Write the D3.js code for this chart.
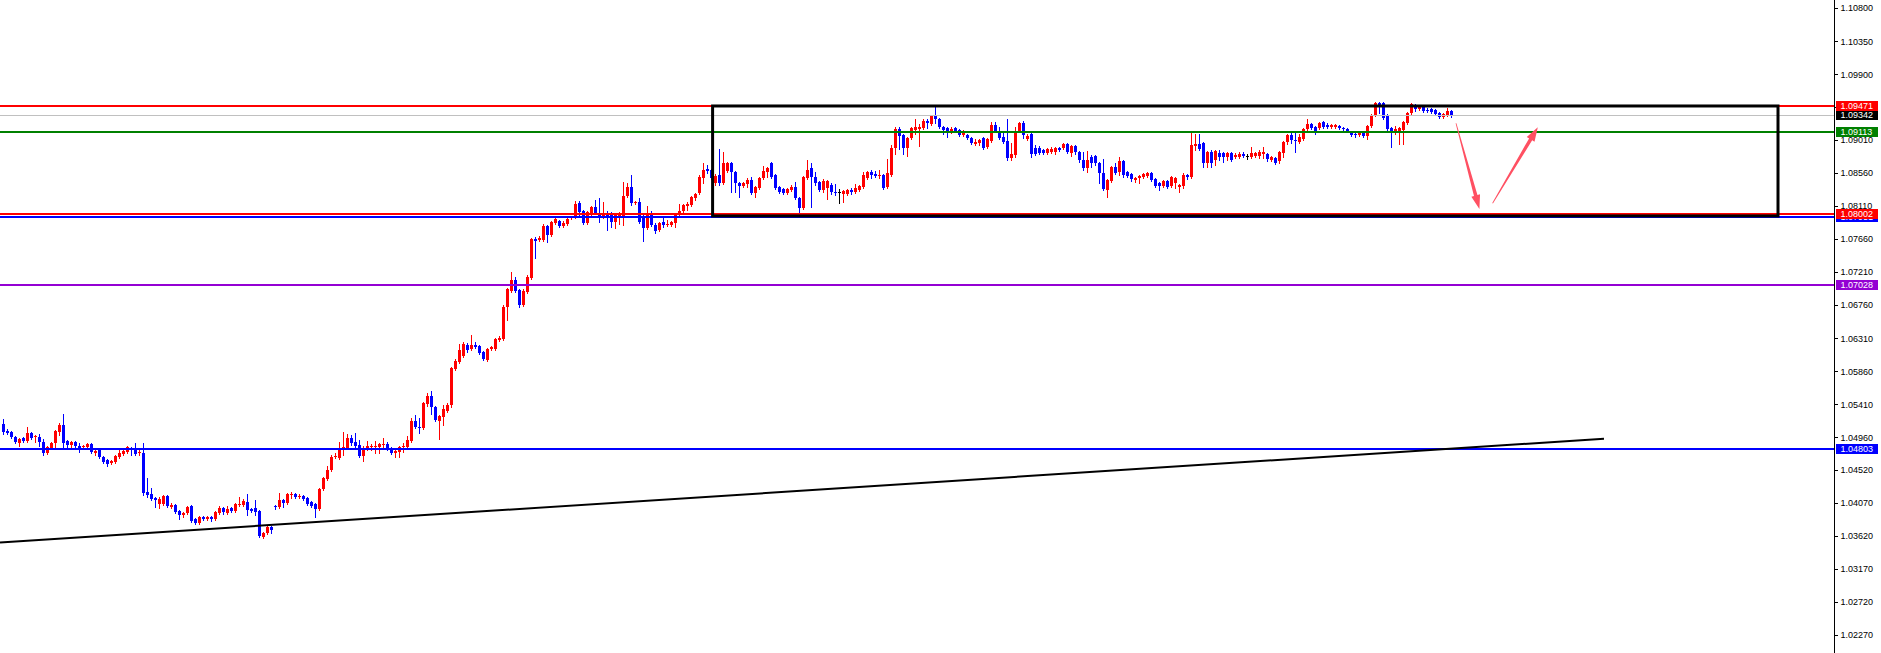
<!DOCTYPE html>
<html><head><meta charset="utf-8">
<script src="https://cdn.jsdelivr.net/npm/d3@7"></script>
<style>html,body{margin:0;padding:0;background:#fff;overflow:hidden}svg{display:block}</style>
</head><body>
<svg id="c" width="1881" height="653"></svg>
<script>
// ---- candle data (EURUSD, oldest -> newest) ----
const open = [
1.05143,1.05047,1.05034,1.04966,1.04884,1.04952,1.04911,1.05020,1.04966,1.04966,
1.04898,1.04748,1.04816,1.04884,1.05034,1.05129,1.04911,1.04857,1.04898,1.04843,
1.04830,1.04830,1.04871,1.04748,1.04789,1.04694,1.04653,1.04612,1.04626,1.04694,
1.04735,1.04762,1.04816,1.04816,1.04748,1.04748,1.04218,1.04191,1.04136,1.04055,
1.04055,1.04163,1.04014,1.04041,1.03959,1.03905,1.03932,1.04027,1.03851,1.03796,
1.03878,1.03851,1.03878,1.03851,1.03932,1.04000,1.03932,1.04000,1.03959,1.04041,
1.04041,1.04082,1.03987,1.04000,1.03959,1.03606,1.03660,1.03742,1.04027,1.04014,
1.04109,1.04068,1.04177,1.04191,1.04150,1.04163,1.04136,1.04082,1.04055,1.03987,
1.04259,1.04395,1.04517,1.04694,1.04680,1.04816,1.04816,1.04952,1.04898,1.04857,
1.04707,1.04816,1.04830,1.04830,1.04830,1.04857,1.04871,1.04816,1.04748,1.04762,
1.04830,1.04830,1.04911,1.05183,1.05102,1.05088,1.05415,1.05523,1.05374,1.05183,
1.05238,1.05319,1.05401,1.05891,1.05986,1.06067,1.06217,1.06163,1.06217,1.06203,
1.06122,1.06013,1.06163,1.06163,1.06285,1.06299,1.06734,1.06952,1.07101,1.06965,
1.06761,1.06938,1.07128,1.07659,1.07645,1.07645,1.07835,1.07713,1.07876,1.07903,
1.07835,1.07863,1.07944,1.07958,1.08148,1.08039,1.07876,1.07985,1.08094,1.07999,
1.07971,1.08012,1.08012,1.07890,1.07971,1.07971,1.08243,1.08366,1.08148,1.08162,
1.07958,1.07808,1.08012,1.07849,1.07781,1.07890,1.07849,1.07849,1.07876,1.07985,
1.08039,1.08107,1.08121,1.08216,1.08284,1.08488,1.08611,1.08597,1.08420,1.08529,
1.08420,1.08583,1.08692,1.08570,1.08420,1.08379,1.08407,1.08461,1.08284,1.08352,
1.08488,1.08570,1.08692,1.08529,1.08366,1.08339,1.08284,1.08325,1.08366,1.08216,
1.08080,1.08488,1.08624,1.08502,1.08434,1.08325,1.08352,1.08393,1.08298,1.08298,
1.08271,1.08271,1.08325,1.08298,1.08325,1.08366,1.08488,1.08570,1.08543,1.08515,
1.08529,1.08366,1.08529,1.08896,1.09155,1.09073,1.08896,1.09032,1.09141,1.09155,
1.09168,1.09263,1.09223,1.09331,1.09291,1.09182,1.09168,1.09114,1.09168,1.09141,
1.09073,1.09073,1.09032,1.08951,1.08964,1.09032,1.08910,1.08991,1.09209,1.09127,
1.09046,1.08991,1.08760,1.08801,1.09127,1.09236,1.09019,1.09087,1.08896,1.08896,
1.08869,1.08828,1.08842,1.08842,1.08896,1.08896,1.08951,1.08828,1.08923,1.08842,
1.08733,1.08624,1.08774,1.08787,1.08692,1.08556,1.08325,1.08447,1.08638,1.08570,
1.08719,1.08570,1.08543,1.08461,1.08488,1.08502,1.08515,1.08556,1.08475,1.08420,
1.08379,1.08447,1.08379,1.08420,1.08366,1.08379,1.08529,1.08502,1.08923,1.08951,
1.08964,1.08692,1.08842,1.08733,1.08828,1.08828,1.08774,1.08828,1.08774,1.08774,
1.08815,1.08787,1.08774,1.08787,1.08787,1.08815,1.08815,1.08733,1.08760,1.08719,
1.08828,1.08978,1.09073,1.09005,1.08978,1.09019,1.09155,1.09223,1.09182,1.09168,
1.09250,1.09209,1.09182,1.09182,1.09195,1.09168,1.09155,1.09114,1.09087,1.09073,
1.09114,1.09059,1.09195,1.09345,1.09508,1.09508,1.09345,1.09168,1.09100,1.09100,
1.09141,1.09236,1.09372,1.09481,1.09427,1.09454,1.09413,1.09427,1.09413,1.09372,
1.09318,1.09345,1.09399];
const high = [
1.05211,1.05075,1.05047,1.04979,1.04952,1.04966,1.05102,1.05034,1.04993,1.05007,
1.04939,1.04843,1.04898,1.05061,1.05156,1.05279,1.04925,1.04911,1.04911,1.04884,
1.04857,1.04884,1.04884,1.04816,1.04803,1.04707,1.04667,1.04653,1.04721,1.04789,
1.04789,1.04843,1.04830,1.04884,1.04789,1.04884,1.04408,1.04272,1.04150,1.04150,
1.04177,1.04177,1.04068,1.04055,1.03973,1.03946,1.04027,1.04041,1.03864,1.03891,
1.03891,1.03891,1.03891,1.03959,1.04027,1.04014,1.04027,1.04014,1.04068,1.04150,
1.04123,1.04191,1.04000,1.04109,1.03973,1.03674,1.03769,1.03755,1.04041,1.04204,
1.04123,1.04204,1.04218,1.04204,1.04191,1.04177,1.04150,1.04095,1.04068,1.04272,
1.04422,1.04571,1.04721,1.04748,1.04898,1.05034,1.05007,1.04993,1.05020,1.04925,
1.04843,1.04911,1.04871,1.04911,1.04884,1.04952,1.04898,1.04830,1.04789,1.04843,
1.04884,1.04979,1.05224,1.05265,1.05224,1.05442,1.05564,1.05591,1.05387,1.05265,
1.05401,1.05428,1.05918,1.06027,1.06230,1.06258,1.06244,1.06353,1.06258,1.06217,
1.06135,1.06176,1.06203,1.06312,1.06339,1.06761,1.06992,1.07210,1.07142,1.06979,
1.06979,1.07169,1.07672,1.07686,1.07699,1.07863,1.07849,1.07903,1.07958,1.07917,
1.07903,1.07944,1.07971,1.08175,1.08175,1.08053,1.08039,1.08107,1.08189,1.08216,
1.08162,1.08039,1.08026,1.08012,1.08026,1.08434,1.08420,1.08529,1.08175,1.08216,
1.07985,1.08107,1.08039,1.07876,1.07890,1.07944,1.07917,1.07903,1.07999,1.08135,
1.08135,1.08162,1.08243,1.08284,1.08529,1.08692,1.08665,1.08611,1.08543,1.08883,
1.08842,1.08706,1.08706,1.08583,1.08434,1.08434,1.08488,1.08502,1.08379,1.08502,
1.08651,1.08638,1.08706,1.08543,1.08379,1.08352,1.08352,1.08393,1.08434,1.08230,
1.08515,1.08733,1.08692,1.08570,1.08447,1.08475,1.08461,1.08420,1.08407,1.08339,
1.08325,1.08339,1.08352,1.08407,1.08393,1.08570,1.08583,1.08597,1.08583,1.08597,
1.08543,1.08747,1.08937,1.09182,1.09182,1.09087,1.09046,1.09182,1.09291,1.09223,
1.09291,1.09291,1.09345,1.09454,1.09304,1.09195,1.09182,1.09182,1.09182,1.09155,
1.09141,1.09087,1.09046,1.09019,1.09019,1.09046,1.09032,1.09250,1.09250,1.09182,
1.09114,1.09291,1.08964,1.09182,1.09250,1.09263,1.09087,1.09100,1.08937,1.08923,
1.08883,1.08896,1.08910,1.08910,1.08910,1.08964,1.08964,1.08937,1.08937,1.08855,
1.08842,1.08855,1.08801,1.08801,1.08706,1.08747,1.08475,1.08651,1.08692,1.08774,
1.08733,1.08583,1.08556,1.08502,1.08529,1.08556,1.08570,1.08570,1.08488,1.08434,
1.08461,1.08461,1.08515,1.08502,1.08407,1.08556,1.08543,1.09114,1.09087,1.09087,
1.08978,1.08855,1.08869,1.08869,1.08869,1.08842,1.08842,1.08842,1.08828,1.08842,
1.08842,1.08815,1.08910,1.08842,1.08869,1.08910,1.08828,1.08787,1.08774,1.08855,
1.08991,1.09087,1.09100,1.09100,1.09087,1.09168,1.09291,1.09236,1.09195,1.09250,
1.09263,1.09236,1.09223,1.09223,1.09209,1.09182,1.09168,1.09127,1.09100,1.09127,
1.09127,1.09209,1.09359,1.09522,1.09522,1.09522,1.09359,1.09182,1.09195,1.09182,
1.09263,1.09386,1.09508,1.09495,1.09467,1.09467,1.09440,1.09440,1.09427,1.09386,
1.09372,1.09440,1.09413];
const low = [
1.05007,1.05007,1.04952,1.04884,1.04843,1.04898,1.04898,1.04939,1.04898,1.04843,
1.04721,1.04735,1.04803,1.04803,1.04993,1.04803,1.04830,1.04830,1.04830,1.04762,
1.04816,1.04816,1.04748,1.04721,1.04680,1.04612,1.04571,1.04599,1.04612,1.04680,
1.04721,1.04748,1.04721,1.04721,1.04721,1.04177,1.04150,1.04109,1.04014,1.04000,
1.04041,1.04014,1.04000,1.03932,1.03851,1.03878,1.03919,1.03810,1.03783,1.03783,
1.03837,1.03837,1.03823,1.03837,1.03919,1.03919,1.03919,1.03946,1.03946,1.04027,
1.04027,1.03905,1.03946,1.03905,1.03606,1.03592,1.03647,1.03660,1.03987,1.04000,
1.04014,1.04055,1.04136,1.04136,1.04136,1.04109,1.04041,1.04014,1.03878,1.03973,
1.04245,1.04381,1.04503,1.04680,1.04667,1.04721,1.04803,1.04857,1.04830,1.04694,
1.04639,1.04789,1.04789,1.04748,1.04748,1.04830,1.04789,1.04735,1.04694,1.04694,
1.04762,1.04816,1.04898,1.05088,1.05020,1.05075,1.05387,1.05279,1.05183,1.04939,
1.05129,1.05306,1.05374,1.05877,1.05972,1.06054,1.06122,1.06149,1.06176,1.06095,
1.06013,1.05999,1.06149,1.06149,1.06271,1.06285,1.06557,1.06938,1.06938,1.06734,
1.06747,1.06924,1.07114,1.07400,1.07631,1.07631,1.07618,1.07699,1.07863,1.07822,
1.07822,1.07849,1.07931,1.07944,1.07958,1.07863,1.07863,1.07971,1.07999,1.07890,
1.07944,1.07781,1.07822,1.07808,1.07863,1.07849,1.08230,1.08121,1.08135,1.07876,
1.07631,1.07795,1.07835,1.07740,1.07767,1.07822,1.07835,1.07835,1.07822,1.07971,
1.08026,1.08053,1.08107,1.08189,1.08271,1.08420,1.08556,1.08475,1.08393,1.08393,
1.08407,1.08570,1.08298,1.08298,1.08230,1.08366,1.08366,1.08271,1.08230,1.08339,
1.08475,1.08502,1.08488,1.08339,1.08284,1.08271,1.08271,1.08311,1.08203,1.08026,
1.08067,1.08475,1.08094,1.08393,1.08311,1.08298,1.08203,1.08271,1.08257,1.08148,
1.08162,1.08257,1.08271,1.08284,1.08311,1.08352,1.08475,1.08488,1.08502,1.08488,
1.08339,1.08352,1.08515,1.08815,1.08883,1.08815,1.08787,1.09019,1.09087,1.08923,
1.09155,1.09168,1.09209,1.09236,1.09168,1.09087,1.09046,1.09100,1.09114,1.09059,
1.09059,1.09019,1.08951,1.08937,1.08937,1.08883,1.08896,1.08978,1.09114,1.09019,
1.08964,1.08733,1.08733,1.08774,1.09114,1.09032,1.09005,1.08774,1.08801,1.08815,
1.08815,1.08815,1.08828,1.08815,1.08855,1.08883,1.08828,1.08787,1.08815,1.08706,
1.08597,1.08570,1.08638,1.08665,1.08420,1.08325,1.08230,1.08434,1.08543,1.08529,
1.08502,1.08502,1.08447,1.08434,1.08420,1.08488,1.08502,1.08447,1.08366,1.08325,
1.08366,1.08352,1.08366,1.08352,1.08298,1.08352,1.08475,1.08488,1.08869,1.08869,
1.08638,1.08638,1.08638,1.08665,1.08733,1.08706,1.08733,1.08719,1.08760,1.08760,
1.08774,1.08747,1.08760,1.08774,1.08760,1.08760,1.08719,1.08719,1.08679,1.08692,
1.08774,1.08951,1.08964,1.08842,1.08964,1.09005,1.09141,1.09155,1.09087,1.09155,
1.09168,1.09168,1.09168,1.09168,1.09155,1.09127,1.09114,1.09059,1.09046,1.09059,
1.09046,1.09019,1.09182,1.09331,1.09372,1.09291,1.09114,1.08910,1.09087,1.08951,
1.08951,1.09223,1.09359,1.09399,1.09413,1.09386,1.09386,1.09372,1.09345,1.09304,
1.09304,1.09331,1.09318];
const close = [
1.05034,1.05020,1.04966,1.04898,1.04939,1.04911,1.05020,1.04952,1.04979,1.04898,
1.04748,1.04830,1.04884,1.05047,1.05129,1.04884,1.04857,1.04898,1.04843,1.04816,
1.04843,1.04871,1.04762,1.04775,1.04694,1.04626,1.04599,1.04639,1.04707,1.04748,
1.04775,1.04830,1.04789,1.04735,1.04762,1.04204,1.04177,1.04123,1.04109,1.04123,
1.04163,1.04027,1.04041,1.03946,1.03905,1.03932,1.04014,1.03823,1.03796,1.03878,
1.03851,1.03878,1.03851,1.03946,1.04000,1.03946,1.03987,1.03959,1.04055,1.04055,
1.04095,1.03973,1.03959,1.03946,1.03619,1.03660,1.03742,1.03701,1.04014,1.04109,
1.04068,1.04191,1.04191,1.04150,1.04163,1.04123,1.04055,1.04027,1.03987,1.04259,
1.04408,1.04517,1.04694,1.04707,1.04816,1.04830,1.04952,1.04884,1.04843,1.04707,
1.04803,1.04843,1.04843,1.04843,1.04871,1.04871,1.04803,1.04748,1.04775,1.04830,
1.04843,1.04925,1.05183,1.05102,1.05088,1.05428,1.05523,1.05374,1.05197,1.05251,
1.05346,1.05401,1.05904,1.05999,1.06149,1.06230,1.06149,1.06217,1.06190,1.06108,
1.06027,1.06163,1.06190,1.06299,1.06312,1.06734,1.06979,1.07101,1.06952,1.06761,
1.06952,1.07142,1.07659,1.07631,1.07672,1.07835,1.07713,1.07890,1.07931,1.07835,
1.07876,1.07931,1.07958,1.08135,1.08026,1.07876,1.08026,1.08094,1.08012,1.07971,
1.08012,1.07958,1.07890,1.07999,1.07999,1.08243,1.08366,1.08148,1.08162,1.07890,
1.07808,1.08012,1.07849,1.07767,1.07876,1.07849,1.07863,1.07890,1.07985,1.08039,
1.08121,1.08135,1.08230,1.08271,1.08502,1.08597,1.08583,1.08488,1.08515,1.08420,
1.08692,1.08692,1.08570,1.08420,1.08379,1.08420,1.08461,1.08284,1.08366,1.08488,
1.08583,1.08624,1.08502,1.08352,1.08298,1.08284,1.08339,1.08366,1.08216,1.08080,
1.08502,1.08597,1.08502,1.08420,1.08325,1.08447,1.08447,1.08298,1.08284,1.08298,
1.08311,1.08325,1.08298,1.08352,1.08379,1.08529,1.08570,1.08529,1.08515,1.08529,
1.08352,1.08556,1.08896,1.09155,1.09059,1.08896,1.09032,1.09168,1.09182,1.09182,
1.09263,1.09236,1.09331,1.09291,1.09182,1.09141,1.09100,1.09155,1.09127,1.09073,
1.09114,1.09032,1.08964,1.08978,1.09005,1.08896,1.09019,1.09209,1.09127,1.09032,
1.08978,1.08760,1.08815,1.09127,1.09236,1.09073,1.09059,1.08815,1.08815,1.08828,
1.08828,1.08883,1.08883,1.08896,1.08869,1.08951,1.08842,1.08923,1.08842,1.08733,
1.08624,1.08733,1.08692,1.08692,1.08556,1.08339,1.08461,1.08638,1.08556,1.08719,
1.08529,1.08515,1.08475,1.08488,1.08515,1.08543,1.08556,1.08461,1.08379,1.08379,
1.08447,1.08366,1.08502,1.08488,1.08393,1.08529,1.08502,1.08937,1.08951,1.08883,
1.08692,1.08842,1.08692,1.08855,1.08774,1.08774,1.08828,1.08733,1.08801,1.08815,
1.08787,1.08787,1.08828,1.08828,1.08842,1.08842,1.08747,1.08774,1.08692,1.08842,
1.08978,1.09073,1.09005,1.08991,1.09046,1.09155,1.09223,1.09168,1.09100,1.09236,
1.09182,1.09182,1.09209,1.09209,1.09168,1.09155,1.09127,1.09073,1.09073,1.09114,
1.09059,1.09195,1.09345,1.09508,1.09481,1.09304,1.09155,1.09100,1.09155,1.09168,
1.09250,1.09372,1.09495,1.09427,1.09454,1.09399,1.09399,1.09386,1.09359,1.09318,
1.09359,1.09399,1.09342];

// ---- price axis ticks ----
const tickValues = [1.10800,1.10350,1.09900,1.09455,1.09010,1.08560,1.08110,1.07660,1.07210,1.06760,
  1.06310,1.05860,1.05410,1.04960,1.04520,1.04070,1.03620,1.03170,1.02720,1.02270];

// ---- horizontal levels (drawn in this order) ----
const levelPrices = [1.09342, 1.09471, 1.09113, 1.07951, 1.08002, 1.07028, 1.04803];
const levelColors = ["#c0c0c0", "#ff0000", "#008000", "#0000ff", "#ff0000", "#9400d3", "#0000ff"];
const levelBoxColors = ["#000000", "#ff0000", "#008000", "#0000ff", "#ff0000", "#9400d3", "#0000ff"];
const levelWidths = [1, 2, 2, 2, 2, 2, 2];

// ---- drawn objects (bar index, price) ----
const boxBars = [177.4, 443.75];
const boxPrices = [1.09467, 1.07971];
const trendBars = [-0.75, 400.25];
const trendPrices = [1.03528, 1.04939];
const arrowBars = [[363.25, 369.1], [372.4, 383.7]];
const arrowPrices = [[1.09232, 1.08066], [1.08143, 1.09177]];

// ---- layout ----
const W = 1881, H = 653, axisX = 1834.5;
const svg = d3.select("#c");
svg.append("rect").attr("width", W).attr("height", H).attr("fill", "#fff");

const x = d3.scaleLinear().domain([0, 458]).range([3, 3 + 458 * 4]);
const y = d3.scaleLinear().domain([1.02270, 1.10800]).range([635, 8]);

const plot = svg.append("g");
const data = open.map((o, i) => ({ i, o, h: high[i], l: low[i], c: close[i] }));
const col = d => d.c > d.o ? "#ff0000" : (d.c < d.o ? "#0000ff" : "#000000");

const cg = plot.append("g").attr("shape-rendering", "crispEdges");
cg.selectAll("rect.w").data(data).join("rect").attr("class", "w")
  .attr("x", d => Math.round(x(d.i)))
  .attr("width", 1)
  .attr("y", d => Math.round(y(Math.max(d.h, d.o, d.c))))
  .attr("height", d => Math.max(1, Math.round(y(Math.min(d.l, d.o, d.c))) - Math.round(y(Math.max(d.h, d.o, d.c))) + 1))
  .attr("fill", col);
cg.selectAll("rect.b").data(data).join("rect").attr("class", "b")
  .attr("x", d => Math.round(x(d.i)) - 1)
  .attr("width", 3)
  .attr("y", d => Math.round(y(Math.max(d.o, d.c))))
  .attr("height", d => Math.max(1, Math.round(y(Math.min(d.o, d.c))) - Math.round(y(Math.max(d.o, d.c)))))
  .attr("fill", col);

// horizontal lines
const lg = plot.append("g").attr("shape-rendering", "crispEdges");
levelPrices.forEach((p, k) => {
  const yy = levelWidths[k] === 2 ? Math.round(y(p)) : Math.round(y(p)) + 0.5;
  lg.append("line").attr("x1", 0).attr("x2", axisX).attr("y1", yy).attr("y2", yy)
    .attr("stroke", levelColors[k]).attr("stroke-width", levelWidths[k]);
});

// rectangle
plot.append("rect")
  .attr("x", x(boxBars[0])).attr("y", y(boxPrices[0]))
  .attr("width", x(boxBars[1]) - x(boxBars[0]))
  .attr("height", y(boxPrices[1]) - y(boxPrices[0]))
  .attr("fill", "none").attr("stroke", "#000").attr("stroke-width", 3);

// trend line
plot.append("line")
  .attr("x1", x(trendBars[0])).attr("y1", y(trendPrices[0]))
  .attr("x2", x(trendBars[1])).attr("y2", y(trendPrices[1]))
  .attr("stroke", "#000").attr("stroke-width", 2);

// arrows (tapered)
arrowBars.forEach((b, k) => {
  const x0 = x(b[0]), y0 = y(arrowPrices[k][0]), x1 = x(b[1]), y1 = y(arrowPrices[k][1]);
  const dx = x1 - x0, dy = y1 - y0, L = Math.hypot(dx, dy);
  const ux = dx / L, uy = dy / L, nx = -uy, ny = ux;
  const hl = 14, hw = 4.5, sw0 = 0.4, sw1 = 1.8;
  const bx = x1 - ux * hl, by = y1 - uy * hl;
  const pts = [
    [x0 + nx * sw0, y0 + ny * sw0],
    [bx + nx * sw1, by + ny * sw1],
    [bx + nx * hw, by + ny * hw],
    [x1, y1],
    [bx - nx * hw, by - ny * hw],
    [bx - nx * sw1, by - ny * sw1],
    [x0 - nx * sw0, y0 - ny * sw0]
  ];
  plot.append("polygon").attr("points", pts.map(p => p.join(",")).join(" "))
    .attr("fill", "rgb(255,80,98)");
});

// right panel
svg.append("rect").attr("x", axisX + 0.5).attr("y", 0).attr("width", W - axisX).attr("height", H).attr("fill", "#fff");
svg.append("line").attr("x1", axisX).attr("x2", axisX).attr("y1", 0).attr("y2", H)
  .attr("stroke", "#000").attr("stroke-width", 1).attr("shape-rendering", "crispEdges");

const ax = svg.append("g").attr("transform", `translate(${axisX},0)`)
  .call(d3.axisRight(y).tickValues(tickValues).tickFormat(d3.format(".5f")).tickSize(3).tickSizeOuter(0).tickPadding(3));
ax.select(".domain").remove();
ax.selectAll(".tick line").attr("stroke", "#000").attr("shape-rendering", "crispEdges");
ax.selectAll(".tick text").attr("font-family", "'Liberation Sans', Arial, sans-serif").attr("font-size", 9)
  .attr("fill", "#000").attr("x", 6).attr("dy", "0.33em");

// level price labels
const labG = svg.append("g");
levelPrices.forEach((p, k) => {
  const yy = Math.round(y(p));
  labG.append("rect").attr("x", 1836).attr("y", yy - 5).attr("width", 42).attr("height", 10)
    .attr("fill", levelBoxColors[k]).attr("shape-rendering", "crispEdges");
  labG.append("text").attr("x", 1840.5).attr("y", yy).attr("dy", "0.33em")
    .attr("font-family", "'Liberation Sans', Arial, sans-serif").attr("font-size", 9)
    .attr("fill", "#fff").text(d3.format(".5f")(p));
});
</script>
</body></html>
